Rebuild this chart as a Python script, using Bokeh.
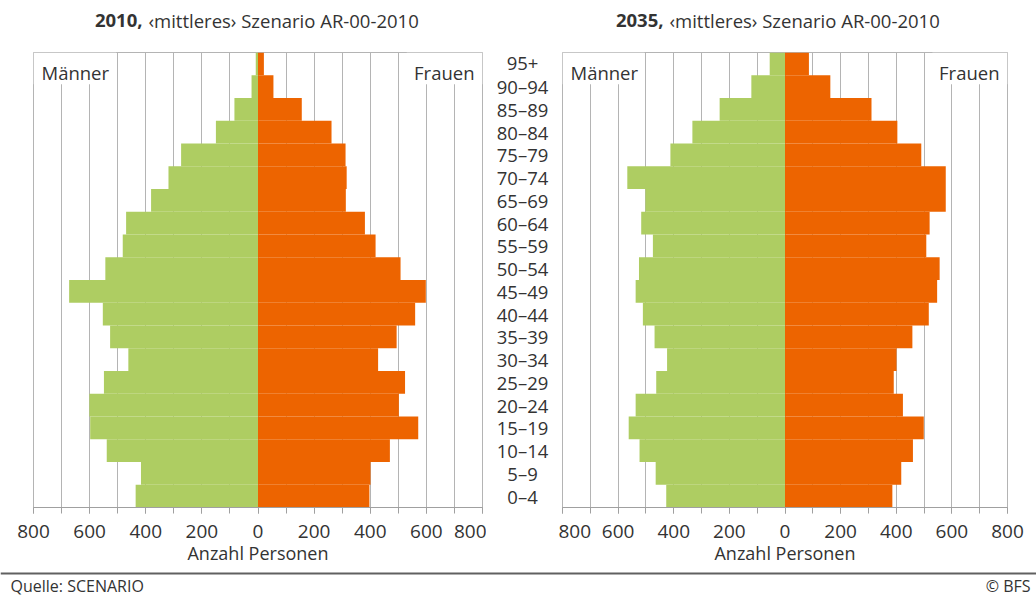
from bokeh.plotting import figure
from bokeh.layouts import column, row
from bokeh.models import (Range1d, FactorRange, FixedTicker, CustomJSTickFormatter,
                          Label, Span, BoxAnnotation, ColumnDataSource)
from bokeh.embed import file_html
from bokeh.resources import INLINE

# ---------------- data (bottom -> top) ----------------
ages = ["0–4", "5–9", "10–14", "15–19", "20–24", "25–29", "30–34", "35–39",
        "40–44", "45–49", "50–54", "55–59", "60–64", "65–69", "70–74",
        "75–79", "80–84", "85–89", "90–94", "95+"]

men_2010 = [436, 417, 539, 598, 601, 549, 462, 527, 553, 673,
            544, 482, 470, 381, 319, 274, 150, 84, 23, 8]
women_2010 = [397, 401, 470, 571, 502, 524, 428, 494, 560, 598,
              508, 419, 381, 313, 316, 312, 262, 156, 55, 21]
men_2035 = [427, 465, 523, 562, 537, 463, 424, 469, 511, 537,
            525, 475, 517, 502, 567, 412, 333, 235, 121, 55]
women_2035 = [386, 418, 460, 499, 424, 391, 401, 458, 517, 547,
              556, 508, 520, 578, 578, 490, 404, 311, 163, 86]

titles_year = ["2010,", "2035,"]
title_rest = "‹mittleres› Szenario AR-00-2010"
x_ticks = [-800, -600, -400, -200, 0, 200, 400, 600, 800]
grid_ticks = list(range(-800, 801, 100))
axis_title = "Anzahl Personen"
source_text = "Quelle: SCENARIO"
copyright_text = "© BFS"

GREEN = "#aecd62"
ORANGE = "#ed6400"
TXT = "#333333"
GRAY = "#b4b4b4"
FONT = "Open Sans"

y_range = FactorRange(factors=ages, range_padding=0)


def make_panel(men, women, min_left, frame_w, min_right):
    p = figure(width=min_left + frame_w + min_right, height=526,
               x_range=Range1d(-800, 800), y_range=y_range,
               output_backend="svg", toolbar_location=None,
               y_axis_location=None,
               min_border_left=min_left, min_border_right=min_right,
               min_border_top=8, min_border_bottom=63)
    src = ColumnDataSource(dict(age=ages, m=[-v for v in men], w=women))
    p.hbar(y="age", left="m", right=0, height=1.0, source=src,
           fill_color=GREEN, line_color=None)
    p.hbar(y="age", left=0, right="w", height=1.0, source=src,
           fill_color=ORANGE, line_color=None)

    # grid
    p.xgrid.ticker = FixedTicker(ticks=grid_ticks)
    p.xgrid.grid_line_color = GRAY
    p.xgrid.grid_line_width = 1
    p.ygrid.visible = False
    p.outline_line_color = GRAY
    p.outline_line_width = 1
    p.background_fill_color = "white"
    p.border_fill_color = "white"

    # white patches behind the corner labels
    p.add_layout(BoxAnnotation(left=-800, right=-505, bottom=18.6, top=20,
                               fill_color="white", fill_alpha=1.0,
                               line_color=None, level="underlay"))
    p.add_layout(BoxAnnotation(left=530, right=800, bottom=18.6, top=20,
                               fill_color="white", fill_alpha=1.0,
                               line_color=None, level="underlay"))

    # x axis
    ax = p.xaxis[0]
    ax.ticker = FixedTicker(ticks=x_ticks, minor_ticks=grid_ticks)
    ax.formatter = CustomJSTickFormatter(code="return Math.abs(tick).toString();")
    ax.major_tick_in = 0
    ax.major_tick_out = 6
    ax.minor_tick_in = 0
    ax.minor_tick_out = 6
    ax.axis_line_color = "#a0a0a0"
    ax.major_tick_line_color = "#a0a0a0"
    ax.minor_tick_line_color = "#a0a0a0"
    ax.major_label_text_font = FONT
    ax.major_label_text_font_size = "19px"
    ax.major_label_text_color = TXT
    ax.major_label_standoff = 11
    ax.axis_label = axis_title
    ax.axis_label_text_font = FONT
    ax.axis_label_text_font_size = "18px"
    ax.axis_label_text_font_style = "normal"
    ax.axis_label_text_color = TXT
    ax.axis_label_standoff = 0

    p.add_layout(Label(x=-800, y=19.12, x_offset=8, text="Männer",
                       text_baseline="middle", text_align="left",
                       text_font=FONT, text_font_size="18.5px", text_color=TXT))
    p.add_layout(Label(x=800, y=19.12, x_offset=-8, text="Frauen",
                       text_baseline="middle", text_align="right",
                       text_font=FONT, text_font_size="18.5px", text_color=TXT))
    return p


p1 = make_panel(men_2010, women_2010, 33, 449, 4)
p2 = make_panel(men_2035, women_2035, 4, 445, 29)

# middle: age-group labels
mid = figure(width=72, height=526, x_range=Range1d(0, 1), y_range=y_range,
             output_backend="svg", toolbar_location=None,
             x_axis_location=None, y_axis_location=None,
             min_border_left=0, min_border_right=0,
             min_border_top=8, min_border_bottom=63)
mid.grid.visible = False
mid.outline_line_color = None
mid_src = ColumnDataSource(dict(age=ages, xc=[0.5] * len(ages)))
mid.text(x="xc", y="age", text="age", source=mid_src,
         text_align="center", text_baseline="middle",
         text_font={"value": FONT}, text_font_size="18.5px", text_color=TXT)

# header with the two titles
head = figure(width=1036, height=44, x_range=Range1d(0, 1036), y_range=Range1d(0, 44),
              output_backend="svg", toolbar_location=None,
              x_axis_location=None, y_axis_location=None,
              min_border=0)
head.grid.visible = False
head.outline_line_color = None
for xs, yr in ((142, titles_year[0]), (663, titles_year[1])):
    head.add_layout(Label(x=xs, y=24, text=yr, text_align="right",
                          text_baseline="middle", text_font=FONT,
                          text_font_size="18.5px", text_font_style="bold",
                          text_color=TXT))
    head.add_layout(Label(x=xs + 6, y=24, text=title_rest, text_align="left",
                          text_baseline="middle", text_font=FONT,
                          text_font_size="18.5px", text_color=TXT))

# footer
foot = figure(width=1036, height=25, x_range=Range1d(0, 1036), y_range=Range1d(0, 25),
              output_backend="svg", toolbar_location=None,
              x_axis_location=None, y_axis_location=None,
              min_border=0)
foot.grid.visible = False
foot.outline_line_color = None
foot.add_layout(Span(location=22, dimension="width", line_color="#606060", line_width=2))
foot.add_layout(Label(x=10, y=10, text=source_text, text_align="left",
                      text_baseline="middle", text_font=FONT,
                      text_font_size="16px", text_color=TXT))
foot.add_layout(Label(x=1030, y=10, text=copyright_text, text_align="right",
                      text_baseline="middle", text_font=FONT,
                      text_font_size="16px", text_color=TXT))

layout = column(head, row(p1, mid, p2, spacing=0), foot, spacing=0)

open("out.html", "w").write(file_html(layout, INLINE))
